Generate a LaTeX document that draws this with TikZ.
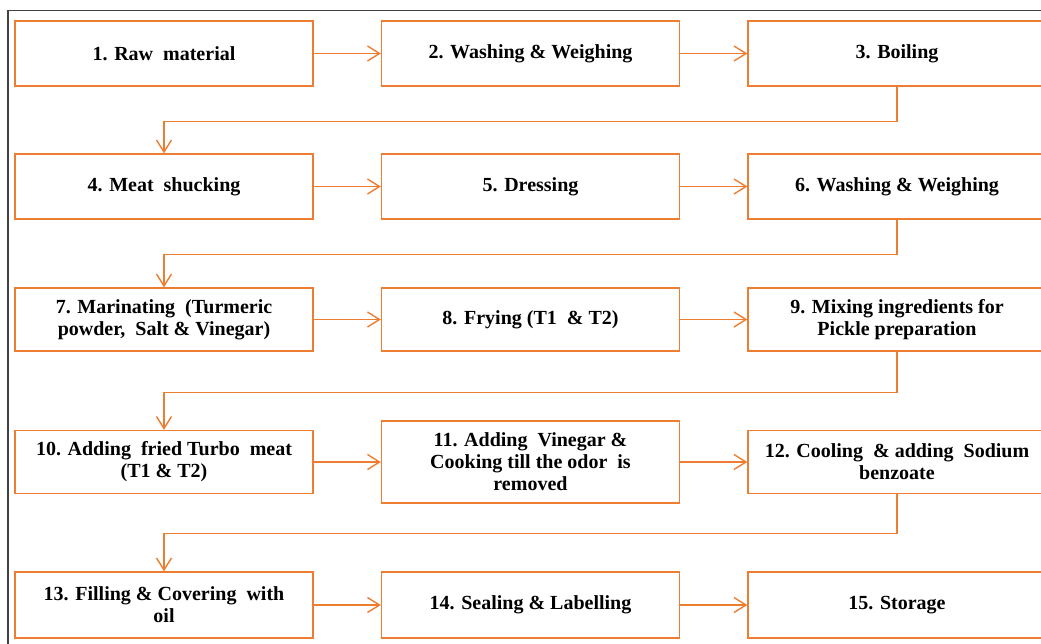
\documentclass[tikz,border=0pt]{standalone}
\usepackage{fontspec}
\setmainfont{Liberation Serif}
\usetikzlibrary{arrows.meta}
\definecolor{FlowOrange}{RGB}{237,125,49}
\definecolor{FrameGray}{RGB}{64,64,64}

\begin{document}
\begin{tikzpicture}[x=1pt, y=-1pt,
    stepbox/.style={draw=FlowOrange, line width=1.4pt, fill=white, align=center,
        minimum width=298pt, minimum height=65pt, inner sep=2pt,
        font=\bfseries\fontsize{20}{22}\selectfont},
    flow/.style={FlowOrange, line width=1.4pt,
        -{Straight Barb[length=12pt, width=15pt, line width=1.4pt]}}]

\useasboundingbox (0,0) rectangle (1041,643);
\clip (0,0) rectangle (1041,643);

% marco exterior
\draw[FrameGray, line width=1.5pt] (8,10.5) rectangle (1090,700);

% --- fila 1 ---
\node[stepbox] (raw)   at (164,53.5)   {1. Raw~~material};
\node[stepbox] (wash1) at (530.5,53.5) {2. Washing \& Weighing};
\node[stepbox] (boil)  at (897,53.5)   {3. Boiling};

% --- fila 2 ---
\node[stepbox] (shuck) at (164,186.5)   {4. Meat~~shucking};
\node[stepbox] (dress) at (530.5,186.5) {5. Dressing};
\node[stepbox] (wash2) at (897,186.5)   {6. Washing \& Weighing};

% --- fila 3 ---
\node[stepbox, minimum height=63pt] (marin) at (164,319.5)
    {7. Marinating~~(Turmeric\\powder,~~Salt \& Vinegar)};
\node[stepbox, minimum height=63pt] (fry)   at (530.5,319.5) {8. Frying (T1~~\& T2)};
\node[stepbox, minimum height=63pt] (mix)   at (897,319.5)
    {9. Mixing ingredients for\\Pickle preparation};

% --- fila 4 ---
\node[stepbox, minimum height=63pt] (addmeat) at (164,462)
    {10. Adding~~fried Turbo~~meat\\(T1 \& T2)};
\node[stepbox, minimum height=82pt] (cook)    at (530.5,462)
    {11. Adding~~Vinegar \&\\Cooking till the odor~~is\\removed};
\node[stepbox, minimum height=63pt] (cool)    at (897,462)
    {12. Cooling~~\& adding~~Sodium\\benzoate};

% --- fila 5 ---
\node[stepbox, minimum height=66pt] (fill)  at (164,605)   {13. Filling \& Covering~~with\\oil};
\node[stepbox, minimum height=66pt] (seal)  at (530.5,605) {14. Sealing \& Labelling};
\node[stepbox, minimum height=66pt] (store) at (897,605)   {15. Storage};

% --- flechas horizontales ---
\draw[flow] (raw) -- (wash1);
\draw[flow] (wash1) -- (boil);
\draw[flow] (shuck) -- (dress);
\draw[flow] (dress) -- (wash2);
\draw[flow] (marin) -- (fry);
\draw[flow] (fry) -- (mix);
\draw[flow] (addmeat) -- (cook);
\draw[flow] (cook) -- (cool);
\draw[flow] (fill) -- (seal);
\draw[flow] (seal) -- (store);

% --- retornos entre filas ---
\draw[flow] (boil.south) -- ++(0,35) -| (shuck.north);
\draw[flow] (wash2.south) -- ++(0,35) -| (marin.north);
\draw[flow] (mix.south) -- ++(0,41) -| (addmeat.north);
\draw[flow] (cool.south) -- ++(0,39.5) -| (fill.north);

\end{tikzpicture}
\end{document}
